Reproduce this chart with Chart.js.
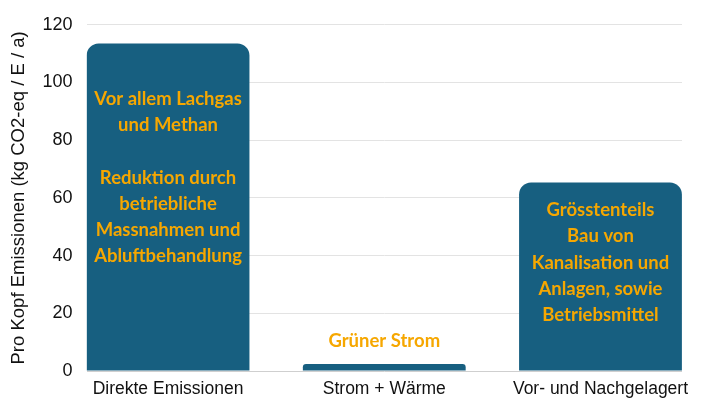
<!DOCTYPE html>
<html>
<head>
<meta charset="utf-8">
<script src="https://cdn.jsdelivr.net/npm/chart.js@4.4.1/dist/chart.umd.min.js"></script>
<style>
  html, body { margin: 0; padding: 0; background: #fff; }
  #wrap { width: 717px; height: 404px; }
</style>
</head>
<body>
<div id="wrap"><canvas id="chart"></canvas></div>
<script>
// Data
const categories = ["Direkte Emissionen", "Strom + Wärme", "Vor- und Nachgelagert"];
const emissions = [113.5, 2.4, 65.3];
const yTicks = [0, 20, 40, 60, 80, 100, 120];

// Text written on / above each bar
const notes = [
    ["Vor allem Lachgas", "und Methan", "", "Reduktion durch", "betriebliche", "Massnahmen und", "Abluftbehandlung"],
    ["Grüner Strom"],
    ["Grösstenteils", "Bau von", "Kanalisation und", "Anlagen, sowie", "Betriebsmittel"]
];
// value (in y units) where the first line of each note sits
const noteAnchors = [94.2, 10.3, 55.7];

const barColor = "#175f80";
const noteColor = "#f6a700";

// draws the notes, positioned through the chart's own scales
const notePlugin = {
    id: "notes",
    afterDatasetsDraw(chart) {
        const ctx = chart.ctx;
        const xs = chart.scales.x;
        const ys = chart.scales.y;
        ctx.save();
        ctx.fillStyle = noteColor;
        ctx.font = "bold 18.5px Lato";
        ctx.textAlign = "center";
        ctx.textBaseline = "middle";
        notes.forEach((lines, i) => {
            const x = xs.getPixelForValue(i);
            let y = ys.getPixelForValue(noteAnchors[i]);
            lines.forEach((line) => {
                ctx.fillText(line, x, y);
                y += 26.2;
            });
        });
        ctx.restore();
    }
};

new Chart(document.getElementById("chart"), {
    type: "bar",
    data: {
        datasets: [{
            data: emissions.map((v, i) => ({ x: i, y: v })),
            backgroundColor: barColor,
            borderRadius: 12,
            borderSkipped: "start",
            barPercentage: 0.753,
            categoryPercentage: 1
        }]
    },
    options: {
        responsive: true,
        maintainAspectRatio: false,
        animation: false,
        layout: { padding: { top: 11, right: 35, left: 10, bottom: 4 } },
        plugins: {
            legend: { display: false },
            tooltip: { enabled: false }
        },
        scales: {
            x: {
                type: "linear",
                offset: false,
                min: -0.377,
                max: 2.377,
                grid: { display: false },
                border: { display: false },
                afterBuildTicks(scale) {
                    scale.ticks = categories.map((c, i) => ({ value: i }));
                },
                ticks: {
                    color: "#111",
                    font: { family: "Liberation Sans", size: 17.5 },
                    padding: 0,
                    maxRotation: 0,
                    autoSkip: false,
                    callback: (v) => categories[v]
                }
            },
            y: {
                min: 0,
                max: 120,
                afterBuildTicks(scale) {
                    scale.ticks = yTicks.map((v) => ({ value: v }));
                },
                grid: {
                    color: (c) => (c.tick && c.tick.value === 0 ? "#cfcfcf" : "#e3e3e3"),
                    lineWidth: 1,
                    drawTicks: false
                },
                border: { display: false },
                ticks: {
                    color: "#111",
                    font: { family: "Liberation Sans", size: 18 },
                    padding: 14
                },
                title: {
                    display: true,
                    text: "Pro Kopf Emissionen (kg CO2-eq / E / a)",
                    color: "#111",
                    font: { family: "Liberation Sans", size: 18.5, lineHeight: 1 },
                    padding: { top: 0, bottom: 0 }
                }
            }
        }
    },
    plugins: [notePlugin]
});
</script>
</body>
</html>
